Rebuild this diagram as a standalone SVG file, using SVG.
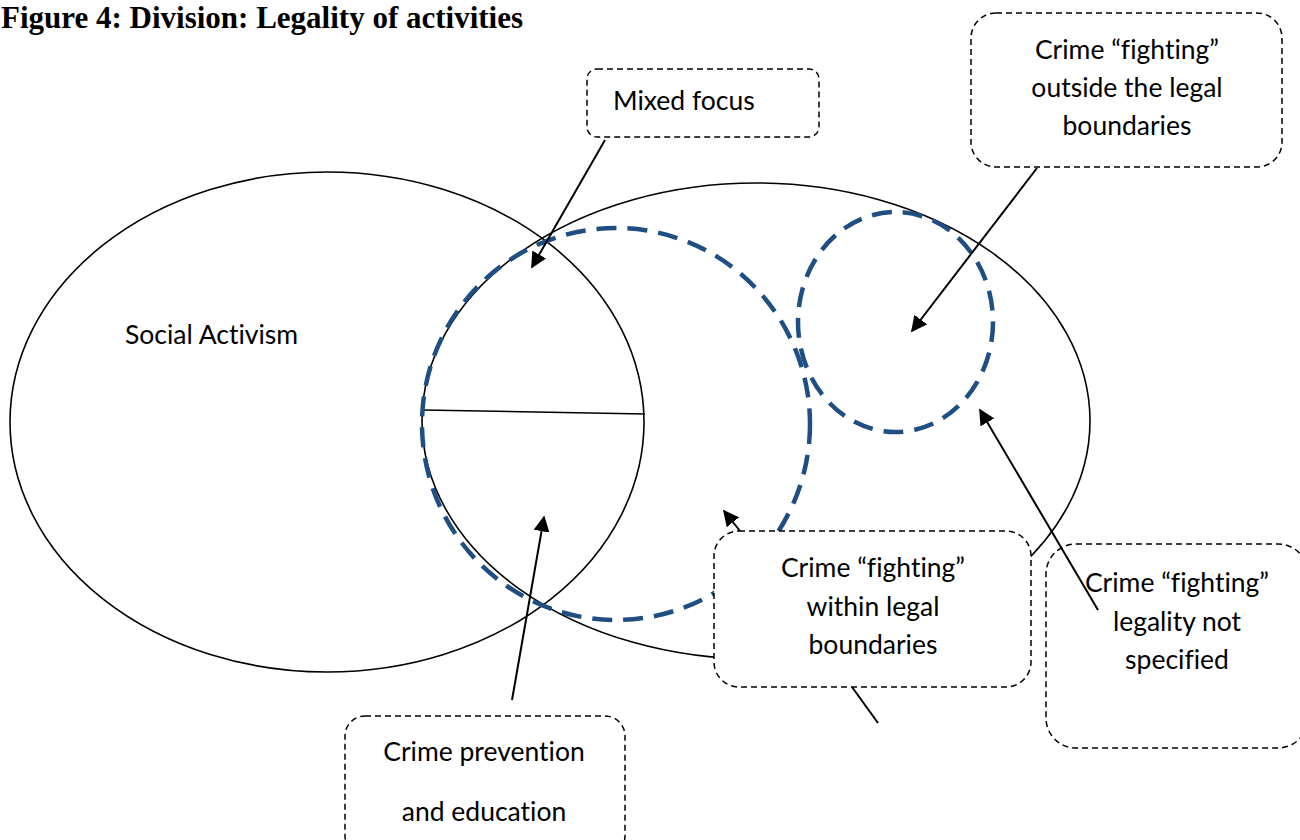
<svg xmlns="http://www.w3.org/2000/svg" width="1300" height="840" viewBox="0 0 1300 840">
<style>
.ell{fill:none;stroke:#000;stroke-width:1.6}
.blue{fill:none;stroke:#1F4E83;stroke-width:4.5;stroke-dasharray:20 11}
.box{fill:#fff;stroke:#000;stroke-width:1.5;stroke-dasharray:6 4}
.lbl{font-family:Lato,"Open Sans","Liberation Sans",sans-serif;font-size:26.5px;fill:#000;font-variant-ligatures:none}
.c{text-anchor:middle}
.arr{stroke:#000;stroke-width:2;fill:none}
.title{font-family:"Liberation Serif","Times New Roman",serif;font-weight:bold;font-size:31px;fill:#000}
</style>
<defs>
<marker id="ah" viewBox="0 0 10 10" refX="9" refY="5" markerWidth="8" markerHeight="8" orient="auto" markerUnits="strokeWidth">
<path d="M0,0 L10,5 L0,10 z" fill="#000"/>
</marker>
</defs>
<rect width="1300" height="840" fill="#fff"/>
<text class="title" x="1" y="28">Figure 4: Division: Legality of activities</text>
<g id="social-activism">
<ellipse class="ell" cx="327" cy="422" rx="317" ry="250"/>
<text class="lbl" x="125" y="344">Social Activism</text>
</g>
<g id="crime-fighting-area">
<ellipse class="ell" cx="756" cy="421" rx="334" ry="238"/>
</g>
<g id="divider">
<line class="ell" x1="423" y1="410" x2="645" y2="414"/>
</g>
<g id="within-circle">
<ellipse class="blue" cx="616" cy="424" rx="194" ry="196"/>
</g>
<g id="outside-circle">
<ellipse class="blue" cx="895.5" cy="322" rx="97.5" ry="110"/>
</g>
<g id="mixed-focus">
<rect class="box" x="587" y="69" width="232" height="68" rx="10"/>
<text class="lbl" x="613" y="110">Mixed focus</text>
</g>
<g id="outside-legal">
<rect class="box" x="971" y="13" width="311" height="154" rx="25"/>
<text class="lbl c" x="1127" y="59">Crime “fighting”</text>
<text class="lbl c" x="1127" y="97">outside the legal</text>
<text class="lbl c" x="1127" y="135">boundaries</text>
</g>
<g id="within-legal">
<rect class="box" x="714" y="531" width="317" height="156" rx="25"/>
<text class="lbl c" x="873" y="577">Crime “fighting”</text>
<text class="lbl c" x="873" y="616">within legal</text>
<text class="lbl c" x="873" y="654">boundaries</text>
</g>
<g id="legality-not-specified">
<rect class="box" x="1046" y="544" width="262" height="204" rx="30"/>
<text class="lbl c" x="1177" y="592">Crime “fighting”</text>
<text class="lbl c" x="1177" y="631">legality not</text>
<text class="lbl c" x="1177" y="669">specified</text>
</g>
<g id="prevention">
<rect class="box" x="345" y="716" width="280" height="140" rx="20"/>
<text class="lbl c" x="484" y="761">Crime prevention</text>
<text class="lbl c" x="484" y="821">and education</text>
</g>
<g id="connectors">
<line class="arr" x1="605" y1="140" x2="532" y2="267" marker-end="url(#ah)"/>
<line class="arr" x1="1037" y1="168" x2="912" y2="331" marker-end="url(#ah)"/>
<line class="arr" x1="1098" y1="610" x2="980" y2="410" marker-end="url(#ah)"/>
<line class="arr" x1="512" y1="700" x2="544" y2="517" marker-end="url(#ah)"/>
<line class="arr" x1="740" y1="531" x2="724" y2="511" marker-end="url(#ah)"/>
<line class="arr" x1="852" y1="687" x2="878" y2="723"/>
</g>
</svg>
